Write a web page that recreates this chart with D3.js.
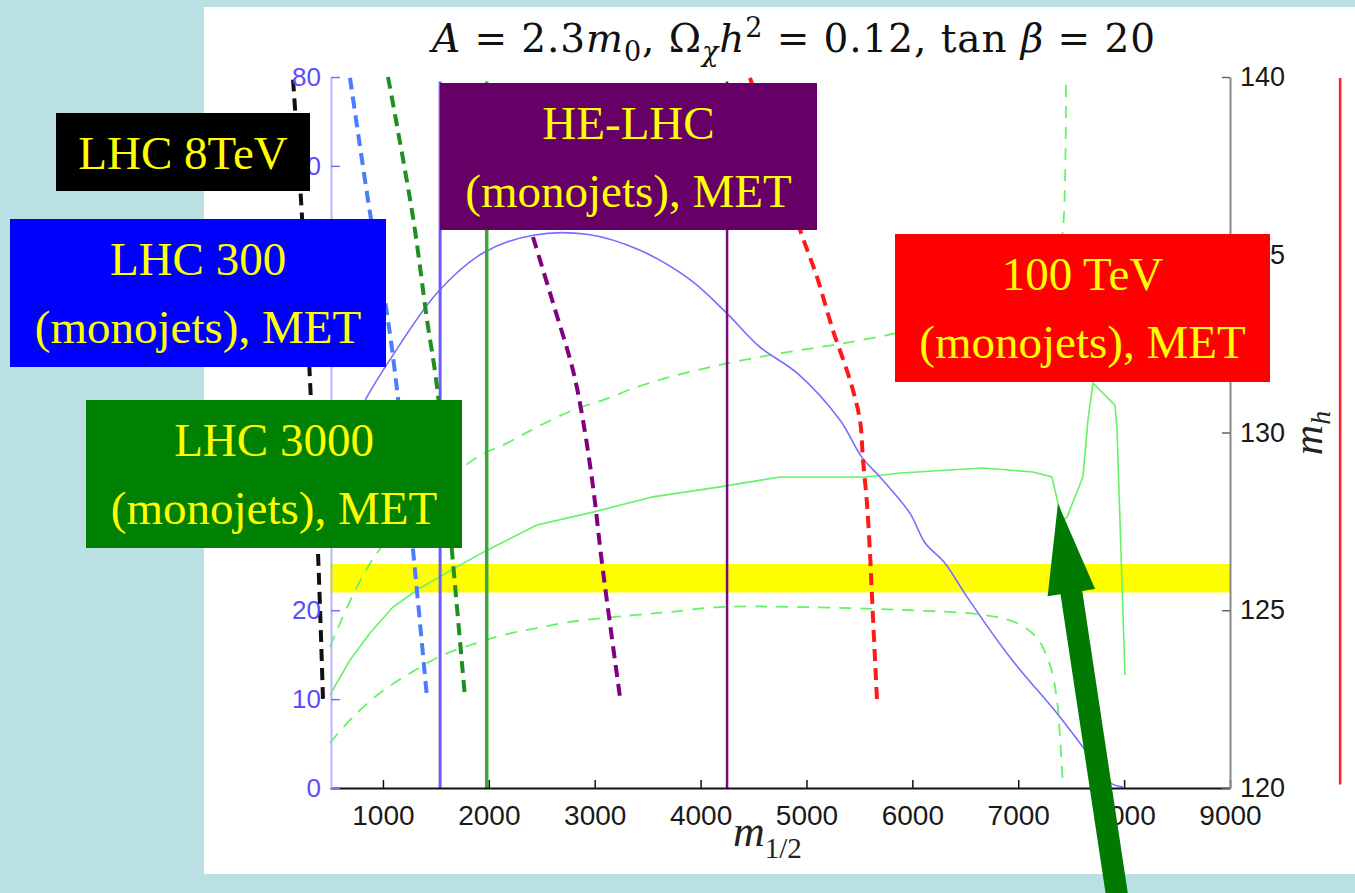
<!DOCTYPE html>
<html>
<head>
<meta charset="utf-8">
<script src="https://cdn.jsdelivr.net/npm/d3@7/dist/d3.min.js"></script>
<style>
  body { margin: 0; background: #bbe0e3; }
  svg { display: block; }
</style>
</head>
<body>
<svg id="chart" width="1355" height="893"></svg>
<script>
// axis ticks
const xTicks = [1000, 2000, 3000, 4000, 5000, 6000, 7000, 8000, 9000];
const leftTicks = [0, 10, 20, 30, 40, 50, 60, 70, 80];
const rightTicks = [120, 125, 130, 135, 140];

// blue solid contour, left axis units  [m_1/2, value]
const blueCurve = [[689, 40.3], [849, 44.0], [1067, 48.2], [1511, 55.7], [1945, 60.2], [2417, 62.2],
  [2927, 62.3], [3428, 60.5], [3900, 57.2], [4249, 53.4], [4561, 49.6], [4910, 46.7], [5316, 41.4],
  [5524, 37.2], [5694, 35.0], [5978, 30.9], [6119, 27.6], [6308, 25.3], [6516, 21.5], [6922, 14.7],
  [7366, 8.4], [7611, 4.6], [7866, 0.6], [7989, 0.1]];

// m_h contours, right axis  [m_1/2, m_h]
const mhSolid = [[500, 122.62], [689, 123.60], [878, 124.36], [1095, 125.09], [1322, 125.57], [1699, 126.22],
  [1983, 126.69], [2455, 127.40], [2984, 127.76], [3550, 128.19], [4183, 128.47], [4750, 128.75],
  [5571, 128.75], [5883, 128.86], [6667, 129.00], [7139, 128.89], [7318, 128.75], [7375, 128.02],
  [7422, 127.54], [7460, 127.62], [7611, 128.75], [7658, 130.35], [7706, 131.39], [7913, 130.77],
  [7932, 130.15], [8008, 123.18]];
const mhUpper = [[500, 123.97], [944, 126.61], [1851, 129.23], [2172, 129.70], [2455, 130.15], [2795, 130.63],
  [3078, 130.91], [3399, 131.28], [3711, 131.56], [4089, 131.84], [4306, 131.98], [4778, 132.24],
  [5250, 132.46], [5628, 132.66], [5855, 132.80], [6450, 133.31], [7111, 134.01], [7375, 135.0],
  [7422, 135.70], [7451, 139.97]];
const mhLower = [[500, 121.27], [717, 122.0], [972, 122.67], [1256, 123.23], [1567, 123.74], [1888, 124.08],
  [2134, 124.30], [2455, 124.50], [2767, 124.67], [3078, 124.78], [3399, 124.87], [3711, 124.95],
  [4183, 125.09], [4939, 125.09], [5883, 125.01], [6667, 124.87], [6988, 124.64], [7177, 124.22],
  [7300, 123.46], [7366, 122.48], [7394, 121.43], [7422, 120.08]];

// collider reach, dashed, left axis units
const reach8 = [[151, 79.7], [236, 64.2], [311, 45.9], [387, 26.4], [434, 9.9]];
const reach300 = [[689, 79.9], [878, 64.7], [1038, 53.4], [1133, 44.8], [1284, 26.8], [1416, 10.2]];
const reach3000 = [[1048, 80.0], [1284, 64.2], [1416, 52.7], [1511, 45.1], [1662, 25.3], [1775, 10.2]];
const reachHE = [[2417, 62.0], [2606, 54.6], [2795, 47.0], [2889, 41.4], [2984, 33.9], [3069, 25.3], [3239, 10.2]];
const reach100 = [[4467, 79.9], [4939, 62.8], [5099, 57.5], [5250, 51.5], [5411, 45.9], [5505, 41.4],
  [5534, 36.9], [5571, 32.1], [5600, 26.4], [5619, 21.5], [5666, 9.9]];

// vertical solid lines at m_1/2
const vBlueX = 1540, vGreenX = 1980, vPurpleX = 4250;
const redLineX = 10040;
const mhBand = [125.5, 126.3];
const arrowTip = [7375, 128.0], arrowTail = [7942, 116.8];

const boxLabels = [
  { lines: ["LHC 8TeV"], fill: "#000000", box: [56, 113, 254, 78] },
  { lines: ["LHC 300", "(monojets), MET"], fill: "#0000ff", box: [10, 219, 376, 148] },
  { lines: ["LHC 3000", "(monojets), MET"], fill: "#008000", box: [86, 400, 376, 148] },
  { lines: ["HE-LHC", "(monojets), MET"], fill: "#660066", box: [440, 83, 377, 147] },
  { lines: ["100 TeV", "(monojets), MET"], fill: "#ff0000", box: [895, 234, 375, 148] }
];

const svg = d3.select("#chart");

svg.append("rect").attr("x", 204).attr("y", 7).attr("width", 1151).attr("height", 867).attr("fill", "#fff");

const x = d3.scaleLinear().domain([500, 9000]).range([330, 1230]);
const yL = d3.scaleLinear().domain([0, 80]).range([788, 77]);
const yR = d3.scaleLinear().domain([120, 140]).range([788, 77]);

// Higgs mass band
svg.append("rect")
  .attr("x", x(500)).attr("width", x(9000) - x(500))
  .attr("y", yR(mhBand[1])).attr("height", yR(mhBand[0]) - yR(mhBand[1]))
  .attr("fill", "#ffff00");

const smooth = d3.curveCatmullRom.alpha(0.5);
const lineL = d3.line().x(d => x(d[0])).y(d => yL(d[1])).curve(smooth);
const lineR = d3.line().x(d => x(d[0])).y(d => yR(d[1])).curve(smooth);
const lineRsharp = d3.line().x(d => x(d[0])).y(d => yR(d[1]));

svg.append("path").attr("d", lineR(mhUpper)).attr("fill", "none")
  .attr("stroke", "#66f266").attr("stroke-width", 1.8).attr("stroke-dasharray", "12,9");
svg.append("path").attr("d", lineR(mhLower)).attr("fill", "none")
  .attr("stroke", "#66f266").attr("stroke-width", 1.8).attr("stroke-dasharray", "12,9");
svg.append("path").attr("d", lineRsharp(mhSolid)).attr("fill", "none")
  .attr("stroke", "#66f266").attr("stroke-width", 1.6);
svg.append("path").attr("d", lineL(blueCurve)).attr("fill", "none")
  .attr("stroke", "#7a6cff").attr("stroke-width", 1.6);

// vertical lines
[[vBlueX, "#6c5cff", 3], [vGreenX, "#3aa83a", 3.5], [vPurpleX, "#7a0a7a", 2.5]].forEach(v => {
  svg.append("line").attr("x1", x(v[0])).attr("x2", x(v[0]))
    .attr("y1", yL(79.5)).attr("y2", yL(0))
    .attr("stroke", v[1]).attr("stroke-width", v[2]);
});

[[reach8, "#111111"], [reach300, "#4b7bff"], [reach3000, "#1f8f1f"], [reachHE, "#800080"], [reach100, "#ff1a1a"]]
  .forEach(r => {
    svg.append("path").attr("d", lineL(r[0])).attr("fill", "none")
      .attr("stroke", r[1]).attr("stroke-width", 4).attr("stroke-dasharray", "12,7");
  });

svg.append("line").attr("x1", x(redLineX)).attr("x2", x(redLineX))
  .attr("y1", yR(139.97)).attr("y2", yR(120.1))
  .attr("stroke", "#ff2020").attr("stroke-width", 2.5);

// axes
const axisFont = "'Liberation Sans', Arial, sans-serif";
const gB = svg.append("g").attr("transform", "translate(0,788)")
  .call(d3.axisBottom(x).tickValues(xTicks).tickFormat(d3.format("d"))
    .tickSizeInner(-8).tickSizeOuter(0).tickPadding(17));
gB.select(".domain").attr("stroke", "#111").attr("stroke-width", 2);
gB.selectAll(".tick line").attr("stroke", "#111").attr("stroke-width", 1.5);
gB.selectAll("text").attr("font-family", axisFont).attr("font-size", 28).attr("fill", "#1a1a1a");

const gL = svg.append("g").attr("transform", "translate(331,0)")
  .call(d3.axisLeft(yL).tickValues(leftTicks).tickSizeInner(-9).tickSizeOuter(0).tickPadding(10));
gL.select(".domain").attr("stroke", "#b5b5ff").attr("stroke-width", 2);
gL.selectAll(".tick line").attr("stroke", "#7c6fff").attr("stroke-width", 1.5);
gL.selectAll("text").attr("font-family", axisFont).attr("font-size", 26).attr("fill", "#5b4dff");

const gR = svg.append("g").attr("transform", "translate(1230,0)")
  .call(d3.axisRight(yR).tickValues(rightTicks).tickSizeInner(-8).tickSizeOuter(0).tickPadding(10));
gR.select(".domain").attr("stroke", "#888").attr("stroke-width", 2);
gR.selectAll(".tick line").attr("stroke", "#666").attr("stroke-width", 1.5);
gR.selectAll("text").attr("font-family", axisFont).attr("font-size", 27).attr("fill", "#1a1a1a");

// title
const mathFont = "'Liberation Serif', 'Times New Roman', serif";
const titleFont = "'DejaVu Serif', serif";
const titleParts = [
  { t: "A", i: 1 }, { t: " = 2.3" }, { t: "m", i: 1 }, { t: "0", s: 1 }, { t: ", Ω" },
  { t: "χ", i: 1, s: 1 }, { t: "h", i: 1 }, { t: "2", p: 1 }, { t: " = 0.12, tan " },
  { t: "β", i: 1 }, { t: " = 20" }
];
const title = svg.append("text").attr("x", 432).attr("y", 52)
  .attr("font-family", titleFont).attr("font-size", 39).attr("fill", "#111");
let shift = 0;
titleParts.forEach(p => {
  const target = p.s ? 9 : p.p ? -15 : 0;
  title.append("tspan").text(p.t)
    .attr("dy", target - shift)
    .attr("font-style", p.i ? "italic" : "normal")
    .attr("font-size", (p.s || p.p) ? 27 : 39);
  shift = target;
});
title.attr("textLength", 723).attr("lengthAdjust", "spacing");

// axis titles
const xl = svg.append("text").attr("x", 733).attr("y", 846).attr("font-family", mathFont).attr("fill", "#222");
xl.append("tspan").text("m").attr("font-style", "italic").attr("font-size", 44);
xl.append("tspan").text("1/2").attr("font-size", 29).attr("dy", 12);

const yl = svg.append("text").attr("transform", "translate(1322,433) rotate(-90)")
  .attr("text-anchor", "middle").attr("font-family", mathFont).attr("fill", "#222");
yl.append("tspan").text("m").attr("font-style", "italic").attr("font-size", 42);
yl.append("tspan").text("h").attr("font-style", "italic").attr("font-size", 28).attr("dy", 8);

// label boxes
boxLabels.forEach(b => {
  const [bx, by, bw, bh] = b.box;
  svg.append("rect").attr("x", bx).attr("y", by).attr("width", bw).attr("height", bh).attr("fill", b.fill);
  b.lines.forEach((l, k) => {
    svg.append("text").attr("x", bx + bw / 2).attr("y", by + 56 + k * 68)
      .attr("text-anchor", "middle").attr("font-family", mathFont).attr("font-size", 47)
      .attr("fill", "#ffff00").text(l);
  });
});

// arrow pointing at the m_h kink
const tip = [x(arrowTip[0]), yR(arrowTip[1])], tail = [x(arrowTail[0]), yR(arrowTail[1])];
const dx = tip[0] - tail[0], dy = tip[1] - tail[1], len = Math.hypot(dx, dy);
const u = [dx / len, dy / len], n = [-u[1], u[0]];
const headL = 90, headW = 24, shaftW = 11;
const base = [tip[0] - headL * u[0], tip[1] - headL * u[1]];
const pt = (p, s) => [p[0] + s * n[0], p[1] + s * n[1]];
const arrowPts = [pt(tail, shaftW), pt(base, shaftW), pt(base, headW), tip, pt(base, -headW), pt(base, -shaftW), pt(tail, -shaftW)];
svg.append("polygon").attr("points", arrowPts.map(p => p.join(",")).join(" ")).attr("fill", "#007a00");
</script>
</body>
</html>
